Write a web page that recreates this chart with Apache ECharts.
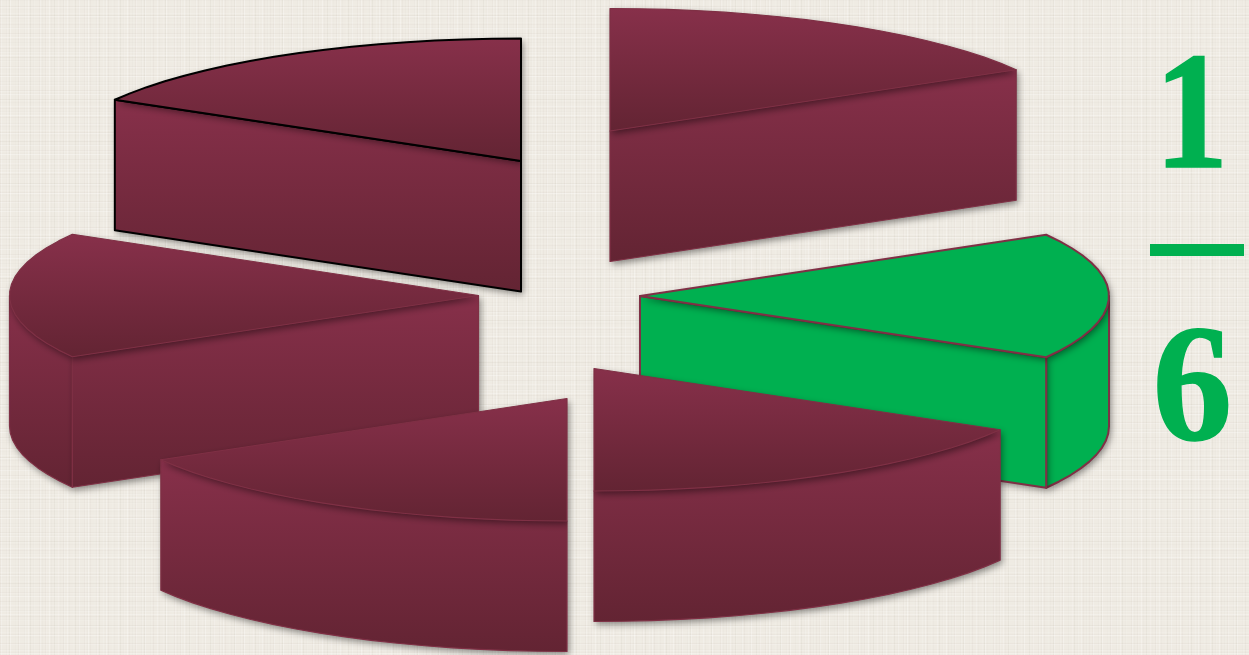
<!DOCTYPE html>
<html><head><meta charset="utf-8">
<style>html,body{margin:0;padding:0;background:#efebe1;overflow:hidden}#c{width:1249px;height:655px}</style>
<script src="https://cdn.jsdelivr.net/npm/echarts@6/dist/echarts.min.js"></script>
</head><body><div id="c"></div>
<script>
// ---- data ----
const sliceNames  = ['A', 'B', 'C', 'D', 'E', 'F'];      // clockwise from 12 o'clock
const sliceValues = [1, 1, 1, 1, 1, 1];                   // six equal parts
const shadedSlice = [0, 1, 0, 0, 0, 0];                   // one part in six is shaded
const fractionTop = '1';
const fractionBottom = '6';

// ---- layout (hidden pixel-scaled axes) ----
const W = 1249, H = 655;
const RX = 469, RY = 122.5, DEPTH = 130.5;
const apex = [[610,131],[640,296],[594,368.5],[567,398.5],[478.5,295.5],[521,161]];
const drawOrder = [5, 0, 4, 1, 3, 2];
const MAROON = ['#87304a', '#632433'];
const GREEN = '#00b050';
const EDGE = '#7f3045';
const outlineBlack = 5;

// sector angles derived from the values
const total = sliceValues.reduce((a, b) => a + b, 0);
let acc = 0;
const sectors = sliceValues.map(v => {
  const a1 = 90 - acc / total * 360; acc += v;
  const a2 = 90 - acc / total * 360;
  return [a1, a2];
});

const seriesData = drawOrder.map(i => [apex[i][0], apex[i][1], sectors[i][0], sectors[i][1], sliceValues[i], i]);

function rim(cx, cy, deg) {
  const t = deg * Math.PI / 180;
  return [cx + RX * Math.cos(t), cy - RY * Math.sin(t)];
}
function arcPts(cx, cy, a1, a2) {
  const n = Math.max(2, Math.round(Math.abs(a1 - a2) / 3.5));
  const out = [];
  for (let k = 0; k <= n; k++) out.push(rim(cx, cy, a1 + (a2 - a1) * k / n));
  return out;
}

function renderSlice(params, api) {
  const cx = api.value(0), cy = api.value(1), a1 = api.value(2), a2 = api.value(3), idx = api.value(5);
  const toPx = p => api.coord(p);
  const fill = shadedSlice[idx]
    ? GREEN
    : new echarts.graphic.LinearGradient(0, 0, 0, 1, [{offset: 0, color: MAROON[0]}, {offset: 1, color: MAROON[1]}]);
  const stroke = idx === outlineBlack ? '#000' : EDGE;
  const lw = idx === outlineBlack ? 2 : (shadedSlice[idx] ? 2 : 1.2);
  const shadow = {shadowBlur: 7, shadowOffsetX: 2, shadowOffsetY: 3, shadowColor: 'rgba(0,0,0,0.45)'};
  const kids = [];
  // fill carries the shadow; the outline goes on separately so its shadow does not darken the face
  const face = pts => {
    const points = pts.map(toPx);
    kids.push({type: 'polygon', shape: {points}, style: Object.assign({fill, stroke: 'none'}, shadow)});
    kids.push({type: 'polygon', shape: {points}, style: {fill: 'none', stroke, lineWidth: lw, lineJoin: 'round'}});
  };
  const drop = p => [p[0], p[1] + DEPTH];
  const P1 = rim(cx, cy, a1), P2 = rim(cx, cy, a2), A = [cx, cy];

  // curved outer wall: only the part facing the viewer
  let from = null, to = null;
  [[-180, 0], [180, 360]].forEach(r => {
    const s = Math.max(a2, r[0]), e = Math.min(a1, r[1]);
    if (e > s) { from = e; to = s; }
  });
  if (from !== null) {
    const top = arcPts(cx, cy, from, to);
    face(top.concat(top.slice().reverse().map(drop)));
  }
  // flat cut walls: visible when the body of the slice lies above the cut line
  [[P1, P2], [P2, P1]].forEach(pair => {
    const R = pair[0], Q = pair[1];
    if (Math.abs(R[0] - cx) < 1) return;
    const lineY = cy + (R[1] - cy) * (Q[0] - cx) / (R[0] - cx);
    if (Q[1] < lineY) face([A, R, drop(R), drop(A)]);
  });
  // top face
  face([A].concat(arcPts(cx, cy, a1, a2)));
  return {type: 'group', children: kids};
}

function renderFraction(params, api) {
  const font = 'bold 168px "Liberation Serif", serif';
  const at = (px, py) => api.coord([px, py]);
  const t1 = at(1191.5, 124), t2 = at(1192.5, 396), b1 = at(1150, 244), b2 = at(1244, 256);
  const txt = (p, s, sx) => ({type: 'text', x: p[0], y: p[1], scaleX: sx,
    style: {x: 0, y: 0, text: s, font, fill: GREEN, stroke: GREEN, lineWidth: 1.5, align: 'center', verticalAlign: 'middle'}});
  return {type: 'group', children: [
    txt(t1, fractionTop, 0.88),
    {type: 'rect', shape: {x: b1[0], y: b1[1], width: b2[0] - b1[0], height: b2[1] - b1[1]}, style: {fill: GREEN}},
    txt(t2, fractionBottom, 0.95)
  ]};
}

// linen texture, built from fixed thread tones
function linen() {
  const c = document.createElement('canvas');
  c.width = 273; c.height = 221;
  const g = c.getContext('2d');
  g.fillStyle = '#efebe3'; g.fillRect(0, 0, c.width, c.height);
  const vt = [.03,.0,.02,.05,.0,.01,.04,.0,.02,.0,.05,.01,.0,.03,.02];
  const ht = [.02,.0,.04,.01,.0,.05,.02,.0,.03,.01,.0,.04,.0,.02];
  const lt = [.22,.0,.12,.3,.0,.06,.18,.0,.15,.25,.0,.1,.0];
  for (let x = 0; x < c.width; x += 3) {
    g.fillStyle = 'rgba(120,105,80,' + vt[(x / 3) % vt.length] + ')';
    g.fillRect(x, 0, 1, c.height);
    g.fillStyle = 'rgba(255,255,255,' + lt[(x / 3) % lt.length] + ')';
    g.fillRect(x + 1, 0, 1, c.height);
  }
  for (let y = 0; y < c.height; y += 3) {
    g.fillStyle = 'rgba(120,105,80,' + ht[(y / 3) % ht.length] + ')';
    g.fillRect(0, y, c.width, 1);
    g.fillStyle = 'rgba(255,255,255,' + lt[(y / 3 + 4) % lt.length] + ')';
    g.fillRect(0, y + 1, c.width, 1);
  }
  return c;
}

const chart = echarts.init(document.getElementById('c'), null, {renderer: 'canvas', width: W, height: H});
chart.setOption({
  animation: false,
  backgroundColor: {image: linen(), repeat: 'repeat'},
  grid: {left: 0, right: 0, top: 0, bottom: 0},
  xAxis: {type: 'value', min: 0, max: W, show: false},
  yAxis: {type: 'value', min: 0, max: H, inverse: true, show: false},
  tooltip: {show: false},
  series: [
    {type: 'custom', name: 'slices', coordinateSystem: 'cartesian2d', clip: false, silent: true,
     encode: {x: 0, y: 1}, data: seriesData, renderItem: renderSlice},
    {type: 'custom', name: 'fraction', coordinateSystem: 'cartesian2d', clip: false, silent: true,
     encode: {x: 0, y: 1}, data: [[1190, 250]], renderItem: renderFraction}
  ]
});
</script></body></html>
